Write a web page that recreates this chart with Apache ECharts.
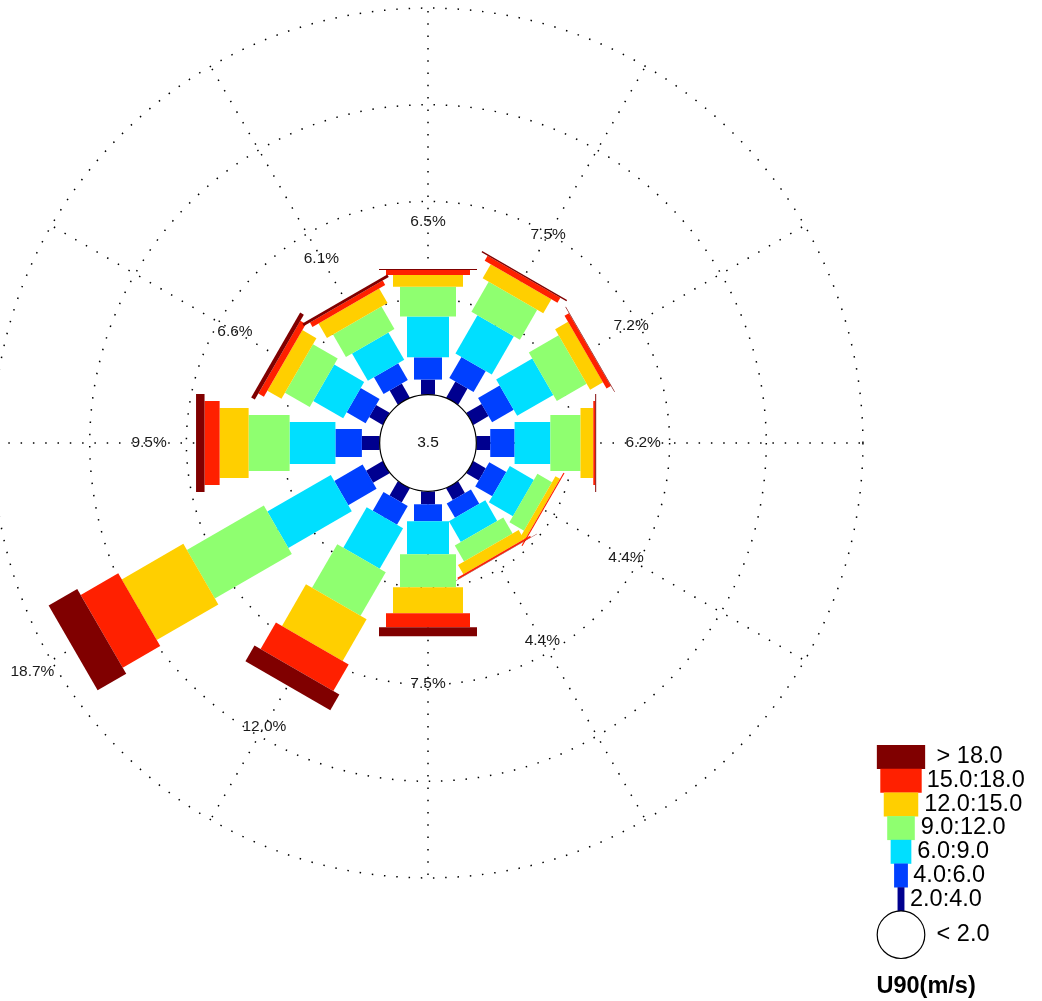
<!DOCTYPE html>
<html>
<head>
<meta charset="utf-8">
<script src="https://cdn.jsdelivr.net/npm/echarts@6/dist/echarts.min.js"></script>
<style>
html,body{margin:0;padding:0;background:#fff;}
#c{width:1042px;height:1001px;}
</style>
</head>
<body>
<div id="c"></div>
<script>
// ---------------- data ----------------
const directions = [0, 30, 60, 90, 120, 150, 180, 210, 240, 270, 300, 330];
const classLabels = ['2.0:4.0', '4.0:6.0', '6.0:9.0', '9.0:12.0', '12.0:15.0', '15.0:18.0', '> 18.0'];
const calmLabel = '< 2.0';
const calmValue = 3.5;
const c2to4   = [0.78, 0.96, 0.91, 0.72, 0.74, 0.69, 0.67, 0.85, 0.99, 0.92, 0.81, 0.84];
const c4to6   = [1.15, 1.26, 1.29, 1.26, 1.02, 0.86, 0.88, 1.11, 1.69, 1.37, 1.13, 1.00];
const c6to9   = [2.12, 2.28, 2.16, 1.85, 1.44, 1.23, 1.71, 2.42, 3.79, 2.37, 1.79, 1.64];
const c9to12  = [1.53, 1.79, 1.78, 1.56, 0.87, 0.96, 1.70, 2.61, 4.60, 2.12, 1.48, 1.34];
const c12to15 = [0.61, 0.84, 0.77, 0.66, 0.27, 0.56, 1.35, 2.48, 3.68, 1.50, 0.84, 0.87];
const c15to18 = [0.26, 0.30, 0.26, 0.10, 0.06, 0.08, 0.72, 1.59, 2.24, 0.78, 0.33, 0.26];
const cOver18 = [0.05, 0.07, 0.03, 0.05, 0.00, 0.02, 0.47, 0.94, 1.71, 0.44, 0.22, 0.15];
const totalLabels = [6.5, 7.5, 7.2, 6.2, 4.4, 4.4, 7.5, 12.0, 18.7, 9.5, 6.6, 6.1];
const gridRings = [5, 10, 15, 20];
const unitTitle = 'U90(m/s)';

// ---------------- style / layout ----------------
const classSeries = [c2to4, c4to6, c6to9, c9to12, c12to15, c15to18, cOver18];
const classColors = ['#00008F', '#0040FF', '#00DFFF', '#8FFF70', '#FFCF00', '#FF2000', '#800000'];
const classWidths = [14, 28, 42, 56, 70, 84, 98];
const radiusMin = -2.5, radiusMax = 20;
const pxPerPct = 19.33;
const center = [428, 443];
const labelShortBarValue = 6.9, labelGap = 2.43;
const FONT = '"Liberation Sans", Arial, Helvetica, sans-serif';
const dots = [1.5, 10.8];

// build bar items: [start, end, angle, classIdx]
const barItems = [];
directions.forEach((a, i) => {
  let cum = 0;
  classSeries.forEach((arr, k) => {
    const s = cum, e = cum + arr[i];
    cum = e;
    barItems.push([s, e, a, k]);
  });
});

const ringItems = gridRings.map(v => [v, 0]);
const spokeItems = directions.map(a => [gridRings[gridRings.length - 1], a]);
// labels sit just beyond the bar end; bars shorter than the first ring get a fixed spot
const labelItems = directions.map((a, i) => [
  (totalLabels[i] < gridRings[0] ? labelShortBarValue : totalLabels[i]) + labelGap, a, totalLabels[i]
]);

function ctr(api) { return api.coord([radiusMin, 0]); }

const option = {
  animation: false,
  backgroundColor: '#fff',
  polar: { center: center, radius: (radiusMax - radiusMin) * pxPerPct },
  angleAxis: { type: 'value', min: 0, max: 360, startAngle: 90, clockwise: true, show: false },
  radiusAxis: { type: 'value', min: radiusMin, max: radiusMax, show: false },
  series: [
    {
      type: 'custom', coordinateSystem: 'polar', z: 1, silent: true,
      encode: { radius: 0, angle: 1 },
      data: ringItems,
      renderItem: function (params, api) {
        const c = ctr(api);
        const p = api.coord([api.value(0), api.value(1)]);
        const r = Math.hypot(p[0] - c[0], p[1] - c[1]);
        return { type: 'circle', shape: { cx: c[0], cy: c[1], r: r },
          style: { fill: 'none', stroke: '#000', lineWidth: 1.5, lineDash: dots } };
      }
    },
    {
      type: 'custom', coordinateSystem: 'polar', z: 1, silent: true,
      encode: { radius: 0, angle: 1 },
      data: spokeItems,
      renderItem: function (params, api) {
        const c = ctr(api);
        const p = api.coord([api.value(0), api.value(1)]);
        return { type: 'line', shape: { x1: c[0], y1: c[1], x2: p[0], y2: p[1] },
          style: { stroke: '#000', lineWidth: 1.5, lineDash: dots } };
      }
    },
    {
      type: 'custom', coordinateSystem: 'polar', z: 2, silent: true,
      encode: { radius: 1, angle: 2 },
      data: barItems,
      renderItem: function (params, api) {
        const s = api.value(0), e = api.value(1), a = api.value(2), k = api.value(3);
        if (e - s <= 0) return null;
        const c = ctr(api);
        const p0 = api.coord([s, a]), p1 = api.coord([e, a]);
        const dx = p1[0] - c[0], dy = p1[1] - c[1];
        const L = Math.hypot(dx, dy);
        const nx = -dy / L, ny = dx / L;
        const h = classWidths[k] / 2;
        return {
          type: 'polygon',
          shape: { points: [
            [p0[0] + nx * h, p0[1] + ny * h],
            [p1[0] + nx * h, p1[1] + ny * h],
            [p1[0] - nx * h, p1[1] - ny * h],
            [p0[0] - nx * h, p0[1] - ny * h]
          ] },
          style: { fill: classColors[k] }
        };
      }
    },
    {
      type: 'custom', coordinateSystem: 'polar', z: 3, silent: true,
      encode: { radius: 0, angle: 1 },
      data: [[0, 0, calmValue]],
      renderItem: function (params, api) {
        const c = ctr(api);
        const p = api.coord([api.value(0), api.value(1)]);
        const r = Math.hypot(p[0] - c[0], p[1] - c[1]);
        return { type: 'group', children: [
          { type: 'circle', shape: { cx: c[0], cy: c[1], r: r },
            style: { fill: '#fff', stroke: '#000', lineWidth: 1.2 } },
          { type: 'text', style: { text: String(api.value(2)), x: c[0], y: c[1],
            align: 'center', verticalAlign: 'middle', textAlign: 'center', textVerticalAlign: 'middle',
            font: '15.5px ' + FONT, fill: '#111' } }
        ] };
      }
    },
    {
      type: 'custom', coordinateSystem: 'polar', z: 4, silent: true,
      encode: { radius: 0, angle: 1 },
      data: labelItems,
      renderItem: function (params, api) {
        const p = api.coord([api.value(0), api.value(1)]);
        return { type: 'text', style: { text: api.value(2).toFixed(1) + '%', x: p[0], y: p[1],
          align: 'center', verticalAlign: 'middle', textAlign: 'center', textVerticalAlign: 'middle',
          font: '15.5px ' + FONT, fill: '#1a1a1a' } };
      }
    }
  ],
  graphic: []
};

// legend (key)
const legTop = 745, rowH = 23.7, legCx = 901;
const legWidths = [6.9, 13.8, 20.7, 27.6, 34.5, 41.4, 48.3];
const legendTextX = [910, 913.3, 917.3, 920.7, 924.2, 926.7, 936.6];
for (let k = 6; k >= 0; k--) {
  const row = 6 - k;
  const y = legTop + row * rowH;
  const w = legWidths[k];
  option.graphic.push({ type: 'rect', shape: { x: legCx - w / 2, y: y, width: w, height: rowH + 0.3 },
    style: { fill: classColors[k] }, silent: true });
  option.graphic.push({ type: 'text', x: legendTextX[k], y: y + rowH / 2,
    style: { text: classLabels[k], font: '23.5px ' + FONT, fill: '#000',
      align: 'left', verticalAlign: 'middle', textAlign: 'left', textVerticalAlign: 'middle' }, silent: true });
}
const circY = legTop + 7 * rowH + 23.8;
option.graphic.push({ type: 'circle', shape: { cx: legCx, cy: circY, r: 23.8 },
  style: { fill: '#fff', stroke: '#000', lineWidth: 1.2 }, silent: true });
option.graphic.push({ type: 'text', x: 936.6, y: circY,
  style: { text: calmLabel, font: '23.5px ' + FONT, fill: '#000',
    align: 'left', verticalAlign: 'middle', textAlign: 'left', textVerticalAlign: 'middle' }, silent: true });
option.graphic.push({ type: 'text', x: 876.5, y: 986.7,
  style: { text: unitTitle, font: 'bold 23.5px ' + FONT, fill: '#000',
    align: 'left', verticalAlign: 'middle', textAlign: 'left', textVerticalAlign: 'middle' }, silent: true });

const chart = echarts.init(document.getElementById('c'), null, { renderer: 'canvas' });
chart.setOption(option);
</script>
</body>
</html>
